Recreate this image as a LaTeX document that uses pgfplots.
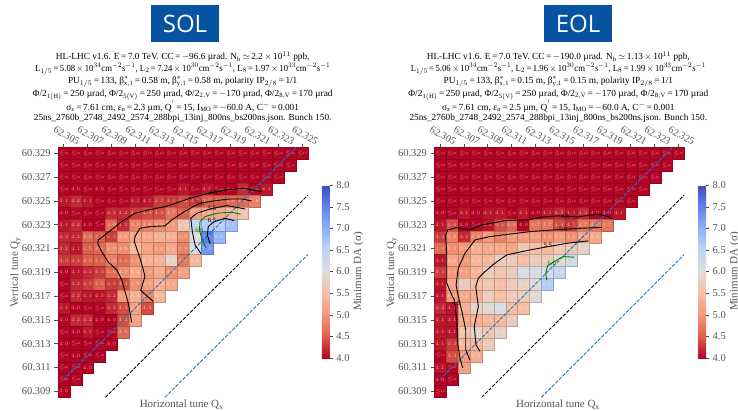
\documentclass[border=0pt]{standalone}
\usepackage{fontspec}
\usepackage{pgfplots}
\pgfplotsset{compat=1.18}
\setmainfont{Liberation Serif}
\newfontfamily\boxfont{Open Sans}
\newcommand{\eq}{\,=\,}
\newcommand{\tm}{\,$\times$\,}
\newcommand{\perarea}{cm$^{-2}$s$^{-1}$}
\definecolor{txtgray}{gray}{0.33}
\definecolor{boxblue}{RGB}{5,83,161}
\definecolor{dashblue}{RGB}{31,119,180}
\definecolor{cgreen}{RGB}{0,128,0}
\tikzset{clab/.style={font=\fontsize{6.5}{7}\selectfont, inner sep=0pt},
  shortdash/.style={dash pattern=on 3.5pt off 1.5pt}}
\pgfplotsset{
  colormap={cw}{rgb255=(180,4,38) rgb255=(220,95,75) rgb255=(244,152,122) rgb255=(246,190,165) rgb255=(221,221,221) rgb255=(192,212,245) rgb255=(141,176,254) rgb255=(98,130,234) rgb255=(59,76,192)},
  cell/.style={scatter, only marks, mark=square*, mark size=5.97pt, point meta=explicit,
    mark options={line width=0.08pt},
    nodes near coords align={center},
    every node near coord/.append style={font=\fontsize{3}{4}\selectfont, text=white, text opacity=0.6, inner sep=0pt}},
  leq/.style={cell, nodes near coords*={$\leq$4.0}},
  val/.style={cell, nodes near coords*={\pgfmathprintnumber[fixed,fixed zerofill,precision=1]{\pgfplotspointmeta}}},
  cline/.style={no marks, black, line width=0.9pt},
  panel/.style={
    scale only axis, width=250.4pt, height=250pt,
    xmin=304.5, xmax=325.5, ymin=308.5, ymax=329.5,
    clip mode=individual, axis line style={draw=none},
    colormap name=cw, point meta min=4, point meta max=8,
    xtick={305,307,...,325},
    xticklabels={62.305,62.307,62.309,62.311,62.313,62.315,62.317,62.319,62.321,62.323,62.325},
    ytick={309,311,...,329},
    yticklabels={60.309,60.311,60.313,60.315,60.317,60.319,60.321,60.323,60.325,60.327,60.329},
    xtick pos=upper, ytick pos=left, xticklabel pos=upper, tick align=outside,
    major tick length=3.5pt, tick style={black!70, line width=0.6pt},
    xticklabel style={rotate=-30, anchor=south, font=\fontsize{10.2}{12}\selectfont, text=txtgray, yshift=1.6pt, xshift=-1.5pt},
    yticklabel style={font=\fontsize{10.5}{12}\selectfont, text=txtgray},
    xlabel={Horizontal tune Q$_{\mathrm{x}}$},
    ylabel={Vertical tune Q$_{\mathrm{y}}$},
    xlabel style={at={(axis description cs:0.495,0)}, anchor=north, font=\fontsize{11}{12}\selectfont, text=txtgray, yshift=1pt},
    ylabel style={at={(axis description cs:0,0.5)}, anchor=south, font=\fontsize{11}{12}\selectfont, text=txtgray, yshift=33pt},
    colorbar,
    colorbar style={
      at={(1.055,0.157)}, anchor=south west, scale only axis, width=8pt, height=173pt,
      ytick={4,4.5,...,8}, yticklabel pos=right, ytick pos=right,
      axis line style={draw=none},
      /pgf/number format/assume math mode=true,
      /pgf/number format/fixed, /pgf/number format/fixed zerofill, /pgf/number format/precision=1,
      major tick length=3pt, tick align=outside, tick style={black!70},
      yticklabel style={font=\fontsize{10.5}{12}\selectfont, text=txtgray},
      ylabel={Minimum DA (σ)},
      ylabel style={font=\fontsize{11}{12}\selectfont, text=txtgray, yshift=3pt},
    },
  },
}
\begin{document}
\begin{tikzpicture}[x=1pt,y=1pt]
\path[use as bounding box] (0,0) rectangle (738,411);

% --- banners
\node[fill=boxblue, text=white, minimum width=67.6pt, minimum height=37pt, inner sep=0pt, font=\boxfont\fontsize{24}{26}\selectfont] at (185,387.5) {SOL};
\node[fill=boxblue, text=white, minimum width=68pt, minimum height=37pt, inner sep=0pt, font=\boxfont\fontsize{24}{26}\selectfont] at (578,387.5) {EOL};

% --- titles
\begin{scope}[every node/.style={font=\fontsize{9.3}{11}\selectfont, inner sep=0pt, anchor=center}]
\node at (182.7,354.3) {HL-LHC v1.6. E\eq 7.0 TeV. CC\eq$-$96.6 µrad. N$_{\mathrm{b}}$\,$\simeq$\,2.2\tm 10$^{11}$ ppb,};
\node at (182.7,342) {\resizebox{295pt}{\height}{L$_{1/5}$\eq 5.08\tm 10$^{34}$\perarea, L$_{2}$\eq 7.24\tm 10$^{30}$\perarea, L$_{8}$\eq 1.97\tm 10$^{33}$\perarea}};
\node at (182.7,329.3) {PU$_{1/5}$\eq 133, β$^{*}_{\mathrm{x,1}}$\eq 0.58 m, β$^{*}_{\mathrm{y,1}}$\eq 0.58 m, polarity IP$_{2/8}$\eq 1/1};
\node at (182.7,316) {\resizebox{300pt}{\height}{Φ/2$_{\mathrm{1(H)}}$\eq 250 µrad, Φ/2$_{\mathrm{5(V)}}$\eq 250 µrad, Φ/2$_{\mathrm{2,V}}$\eq$-$170 µrad, Φ/2$_{\mathrm{8,V}}$\eq 170 µrad}};
\node at (182.7,304.3) {σ$_{\mathrm{z}}$\eq 7.61 cm, ε$_{\mathrm{n}}$\eq 2.3 µm, Q$^{'}$\eq 15, I$_{\mathrm{MO}}$\eq$-$60.0 A, C$^{-}$\eq 0.001};
\node at (182.7,292.7) {25ns\_2760b\_2748\_2492\_2574\_288bpi\_13inj\_800ns\_bs200ns.json. Bunch 150.};

\node at (558.3,354.3) {HL-LHC v1.6. E\eq 7.0 TeV. CC\eq$-$190.0 µrad. N$_{\mathrm{b}}$\,$\simeq$\,1.13\tm 10$^{11}$ ppb,};
\node at (558.3,342) {\resizebox{295pt}{\height}{L$_{1/5}$\eq 5.06\tm 10$^{34}$\perarea, L$_{2}$\eq 1.96\tm 10$^{30}$\perarea, L$_{8}$\eq 1.99\tm 10$^{33}$\perarea}};
\node at (558.3,329.3) {PU$_{1/5}$\eq 133, β$^{*}_{\mathrm{x,1}}$\eq 0.15 m, β$^{*}_{\mathrm{y,1}}$\eq 0.15 m, polarity IP$_{2/8}$\eq 1/1};
\node at (558.3,316) {\resizebox{300pt}{\height}{Φ/2$_{\mathrm{1(H)}}$\eq 250 µrad, Φ/2$_{\mathrm{5(V)}}$\eq 250 µrad, Φ/2$_{\mathrm{2,V}}$\eq$-$170 µrad, Φ/2$_{\mathrm{8,V}}$\eq 170 µrad}};
\node at (558.3,304.3) {σ$_{\mathrm{z}}$\eq 7.61 cm, ε$_{\mathrm{n}}$\eq 2.5 µm, Q$^{'}$\eq 15, I$_{\mathrm{MO}}$\eq$-$60.0 A, C$^{-}$\eq 0.001};
\node at (558.3,292.7) {25ns\_2760b\_2748\_2492\_2574\_288bpi\_13inj\_800ns\_bs200ns.json. Bunch 150.};
\end{scope}

% ========================= SOL =========================
\begin{axis}[panel, at={(57.7pt,13.7pt)}, anchor=south west]
\addplot[leq] coordinates {
(305,329)[4](306,329)[4](307,329)[4](308,329)[4](309,329)[4](310,329)[4](311,329)[4](312,329)[4](313,329)[4](314,329)[4](315,329)[4](316,329)[4](317,329)[4](318,329)[4](319,329)[4](320,329)[4](321,329)[4](322,329)[4](323,329)[4](324,329)[4](325,329)[4]
(305,328)[4](306,328)[4](307,328)[4](308,328)[4](309,328)[4](310,328)[4](311,328)[4](312,328)[4](313,328)[4](314,328)[4](315,328)[4](316,328)[4](317,328)[4](318,328)[4](319,328)[4](320,328)[4](321,328)[4](322,328)[4](323,328)[4](324,328)[4]
(305,327)[4](306,327)[4](307,327)[4](308,327)[4](309,327)[4](310,327)[4](311,327)[4](312,327)[4](313,327)[4](314,327)[4](315,327)[4](316,327)[4](317,327)[4](318,327)[4](319,327)[4](320,327)[4](321,327)[4](322,327)[4](323,327)[4]
(305,326)[4](307,326)[4](309,326)[4](310,326)[4](311,326)[4](312,326)[4](313,326)[4](314,326)[4](316,326)[4](318,326)[4](319,326)[4](321,326)[4]
(308,325)[4](309,325)[4](310,325)[4]
(306,324)[4](307,324)[4](308,324)[4]
(308,323)[4]
(305,318)[4](305,317)[4]
(307,316)[4](308,316)[4]
(305,314)[4](308,314)[4](309,314)[4]
(306,313)[4](307,313)[4](308,313)[4]
(305,312)[4](307,312)[4](308,312)[4]
(305,311)[4](306,311)[4]
(305,310)[4](306,310)[4]
};
\addplot[val] coordinates {
(306,326)[4.0](308,326)[4.0](315,326)[4.1](317,326)[4.1](320,326)[4.2](322,326)[4.1]
(305,325)[4.1](306,325)[4.2](307,325)[4.1](311,325)[4.1](312,325)[4.1](313,325)[4.3](314,325)[4.3](315,325)[4.4](316,325)[4.3](317,325)[4.5](318,325)[4.5](319,325)[4.6](320,325)[4.6](321,325)[4.8]
(305,324)[4.0](309,324)[4.2](310,324)[4.2](311,324)[4.3](312,324)[4.4](313,324)[4.4](314,324)[4.7](315,324)[4.5](316,324)[5.0](317,324)[5.2](318,324)[5.2](319,324)[5.4](320,324)[5.6]
(305,323)[4.1](306,323)[4.2](307,323)[4.0](309,323)[4.6](310,323)[4.2](311,323)[4.8](312,323)[4.8](313,323)[4.9](314,323)[5.0](315,323)[5.6](316,323)[6.4](317,323)[6.6](318,323)[6.6](319,323)[6.8]
(305,322)[4.2](306,322)[4.2](307,322)[4.6](308,322)[4.5](309,322)[4.3](310,322)[5.0](311,322)[5.2](312,322)[5.2](313,322)[5.3](314,322)[5.3](315,322)[4.9](316,322)[6.0](317,322)[7.5](318,322)[6.9]
(305,321)[4.2](306,321)[4.1](307,321)[4.5](308,321)[4.6](309,321)[4.9](310,321)[4.9](311,321)[5.4](312,321)[5.1](313,321)[5.0](314,321)[5.2](315,321)[4.8](316,321)[6.0](317,321)[7.3]
(305,320)[4.3](306,320)[4.3](307,320)[4.5](308,320)[4.5](309,320)[4.8](310,320)[4.6](311,320)[4.9](312,320)[5.3](313,320)[5.3](314,320)[5.8](315,320)[4.7](316,320)[5.4]
(305,319)[4.0](306,319)[4.1](307,319)[4.2](308,319)[4.3](309,319)[4.6](310,319)[4.9](311,319)[5.2](312,319)[5.0](313,319)[5.2](314,319)[4.9](315,319)[5.1]
(306,318)[4.2](307,318)[4.3](308,318)[4.5](309,318)[4.3](310,318)[4.4](311,318)[4.9](312,318)[5.1](313,318)[5.3](314,318)[5.2]
(306,317)[4.2](307,317)[4.1](308,317)[4.1](309,317)[4.2](310,317)[5.0](311,317)[5.3](312,317)[4.8](313,317)[5.4]
(305,316)[4.1](306,316)[4.0](309,316)[4.2](310,316)[4.4](311,316)[5.1](312,316)[4.4]
(305,315)[4.0](306,315)[4.2](307,315)[4.2](308,315)[4.0](309,315)[4.0](310,315)[4.4](311,315)[5.1]
(306,314)[4.0](307,314)[4.1](310,314)[4.6]
(305,313)[4.0](309,313)[4.0]
(306,312)[4.0]
(307,311)[4.0]
(305,309)[4.0]
};
\addplot[shortdash, dashblue, line width=0.9pt, no marks] coordinates {(305,310)(324.5,329.5)};
\addplot[shortdash, dashblue, line width=0.9pt, no marks] coordinates {(313.5,308.5)(325.5,320.5)};
\addplot[shortdash, black, line width=0.9pt, no marks] coordinates {(308.5,308.5)(325.5,325.5)};
\addplot[cline] coordinates {(310.71,314.79)(310.42,316.41)(310.15,317.36)(309.87,318.37)(309.45,319.21)(308.72,319.88)(308.19,320.74)(307.86,321.45)(307.91,321.72)(308.89,322.48)(309.87,323.26)(310.98,323.96)(312.10,324.24)(313.59,324.53)(315.60,325.22)(317.28,325.67)(318.68,325.92)(320.05,326.06)(321.61,325.78)};
\addplot[cline] coordinates {(312.52,316.55)(311.46,317.47)(311.82,318.64)(311.68,319.21)(311.40,320.19)(310.93,321.58)(310.98,322.00)(311.40,322.70)(312.24,322.84)(313.50,322.90)(314.06,323.40)(315.04,324.05)(315.88,324.52)(316.44,324.80)(317.55,324.99)(318.95,325.16)(319.94,325.16)(320.78,324.99)};
\addplot[cline] coordinates {(316.52,320.55)(316.02,321.30)(315.79,322.42)(315.66,323.54)(316.16,323.96)(317.28,324.32)(318.68,324.60)(319.65,324.43)(320.21,324.32)};
\addplot[cline] coordinates {(317.28,321.39)(317.05,322.14)(317.13,322.84)(317.55,323.21)(318.53,323.54)(319.29,323.34)};
\addplot[cline, cgreen] coordinates {(316.94,321.03)(316.58,321.87)(316.38,322.56)(316.44,323.26)(316.86,323.68)(317.84,323.96)(319.10,324.05)(319.85,323.88)};
\node[clab] at (axis cs:317.55,325.7) {4.5};
\node[clab] at (axis cs:316.44,324.8) {5.0};
\node[clab] at (axis cs:317.44,324.4) {5.5};
\node[clab] at (axis cs:317.44,323.4) {6.5};
\node[clab, text=cgreen] at (axis cs:316.38,322.56) {6.0};
\end{axis}

% ========================= EOL =========================
\begin{axis}[panel, at={(434pt,13.7pt)}, anchor=south west]
\addplot[leq] coordinates {
(305,329)[4](306,329)[4](307,329)[4](308,329)[4](309,329)[4](310,329)[4](311,329)[4](312,329)[4](313,329)[4](314,329)[4](315,329)[4](316,329)[4](317,329)[4](318,329)[4](319,329)[4](320,329)[4](321,329)[4](322,329)[4](323,329)[4](324,329)[4](325,329)[4]
(305,328)[4](306,328)[4](307,328)[4](308,328)[4](309,328)[4](310,328)[4](311,328)[4](312,328)[4](313,328)[4](314,328)[4](315,328)[4](316,328)[4](317,328)[4](318,328)[4](319,328)[4](320,328)[4](321,328)[4](322,328)[4](323,328)[4](324,328)[4]
(305,327)[4](306,327)[4](307,327)[4](308,327)[4](309,327)[4](310,327)[4](311,327)[4](312,327)[4](313,327)[4](314,327)[4](315,327)[4](316,327)[4](317,327)[4](318,327)[4](319,327)[4](320,327)[4](321,327)[4](322,327)[4](323,327)[4]
(305,326)[4](306,326)[4](307,326)[4](308,326)[4](309,326)[4](310,326)[4](311,326)[4](312,326)[4](313,326)[4](314,326)[4](315,326)[4](316,326)[4](317,326)[4](318,326)[4](319,326)[4](320,326)[4](321,326)[4](322,326)[4]
(305,325)[4](306,325)[4](307,325)[4](308,325)[4](309,325)[4](310,325)[4](311,325)[4](312,325)[4](313,325)[4](314,325)[4](315,325)[4](316,325)[4](317,325)[4](318,325)[4](319,325)[4](320,325)[4](321,325)[4]
(306,324)[4](311,324)[4]
(308,323)[4]
(305,312)[4]
(306,311)[4]
(306,310)[4]
(305,309)[4]
};
\addplot[val] coordinates {
(305,324)[4.0](307,324)[4.1](308,324)[4.0](309,324)[4.1](310,324)[4.1](312,324)[4.1](313,324)[4.0](314,324)[4.1](315,324)[4.2](316,324)[4.1](317,324)[4.2](318,324)[4.0](319,324)[4.0](320,324)[4.1]
(305,323)[4.1](306,323)[4.4](307,323)[4.0](309,323)[4.1](310,323)[4.4](311,323)[4.6](312,323)[4.0](313,323)[4.7](314,323)[4.7](315,323)[4.4](316,323)[4.3](317,323)[4.7](318,323)[4.7](319,323)[4.7]
(305,322)[4.3](306,322)[4.8](307,322)[4.2](308,322)[4.8](309,322)[5.0](310,322)[4.8](311,322)[5.0](312,322)[5.0](313,322)[5.0](314,322)[4.9](315,322)[5.0](316,322)[4.9](317,322)[5.1](318,322)[5.2]
(305,321)[4.6](306,321)[4.9](307,321)[5.0](308,321)[5.3](309,321)[5.2](310,321)[5.2](311,321)[5.1](312,321)[5.6](313,321)[5.5](314,321)[5.4](315,321)[5.6](316,321)[5.6](317,321)[5.8]
(305,320)[4.1](306,320)[5.2](307,320)[5.0](308,320)[5.4](309,320)[5.4](310,320)[5.7](311,320)[5.7](312,320)[5.5](313,320)[5.7](314,320)[5.7](315,320)[5.9](316,320)[6.2]
(305,319)[4.3](306,319)[5.0](307,319)[5.1](308,319)[5.4](309,319)[5.7](310,319)[5.6](311,319)[5.7](312,319)[6.1](313,319)[6.1](314,319)[6.1](315,319)[6.4]
(305,318)[4.1](306,318)[5.2](307,318)[5.7](308,318)[5.5](309,318)[5.6](310,318)[5.5](311,318)[5.7](312,318)[5.8](313,318)[5.9](314,318)[6.6]
(305,317)[4.1](306,317)[5.0](307,317)[5.2](308,317)[5.3](309,317)[5.7](310,317)[5.5](311,317)[5.7](312,317)[5.7](313,317)[5.9]
(305,316)[4.2](306,316)[4.1](307,316)[5.3](308,316)[5.8](309,316)[5.9](310,316)[6.1](311,316)[5.5](312,316)[5.5]
(305,315)[4.1](306,315)[4.1](307,315)[5.2](308,315)[5.3](309,315)[5.4](310,315)[5.4](311,315)[5.7]
(305,314)[4.1](306,314)[4.1](307,314)[5.6](308,314)[5.8](309,314)[5.6](310,314)[5.8]
(305,313)[4.1](306,313)[4.3](307,313)[5.4](308,313)[5.4](309,313)[5.7]
(306,312)[4.4](307,312)[5.0](308,312)[5.3]
(305,311)[4.1](307,311)[5.1]
(305,310)[4.0]
};
\addplot[shortdash, dashblue, line width=0.9pt, no marks] coordinates {(305,310)(324.5,329.5)};
\addplot[shortdash, dashblue, line width=0.9pt, no marks] coordinates {(313.5,308.5)(325.5,320.5)};
\addplot[shortdash, black, line width=0.9pt, no marks] coordinates {(308.5,308.5)(325.5,325.5)};
\addplot[cline] coordinates {(306.91,310.96)(306.68,311.80)(306.49,313.06)(306.40,315.01)(306.20,316.69)(306.04,316.97)(305.57,318.09)(305.57,319.21)(305.57,320.32)(305.48,322.14)(305.65,322.56)(306.40,322.76)(307.46,322.56)(308.50,322.98)(310.46,323.34)(312.41,323.40)(313.54,323.63)(314.93,323.74)(316.58,323.65)(318.15,323.90)(319.10,323.68)(319.46,323.46)};
\addplot[cline] coordinates {(307.52,311.60)(307.16,312.50)(307.16,314.17)(306.87,315.57)(306.51,317.11)(306.35,317.95)(306.54,319.35)(307.10,320.61)(307.94,321.72)(309.20,322.00)(312.55,322.42)(314.51,322.56)(316.89,322.70)(318.57,322.77)};
\addplot[cline] coordinates {(308.36,312.35)(308.02,312.91)(307.88,314.45)(308.22,316.13)(308.00,317.81)(308.22,318.51)(308.78,319.06)(309.62,319.77)(310.60,320.46)(312.55,320.88)(314.09,321.16)(315.74,321.45)(317.42,321.64)};
\addplot[cline, cgreen] coordinates {(313.95,318.37)(313.87,318.93)(314.04,319.57)(314.37,319.77)(315.07,320.19)(315.35,320.32)(316.25,320.27)};
\node[clab] at (axis cs:315.49,323.7) {4.5};
\node[clab] at (axis cs:315.32,322.6) {5.0};
\node[clab] at (axis cs:314.06,321.25) {5.5};
\node[clab] at (axis cs:306.35,316.4) {4.5};
\node[clab, text=cgreen] at (axis cs:314.37,319.77) {6.0};
\end{axis}
\end{tikzpicture}
\end{document}
